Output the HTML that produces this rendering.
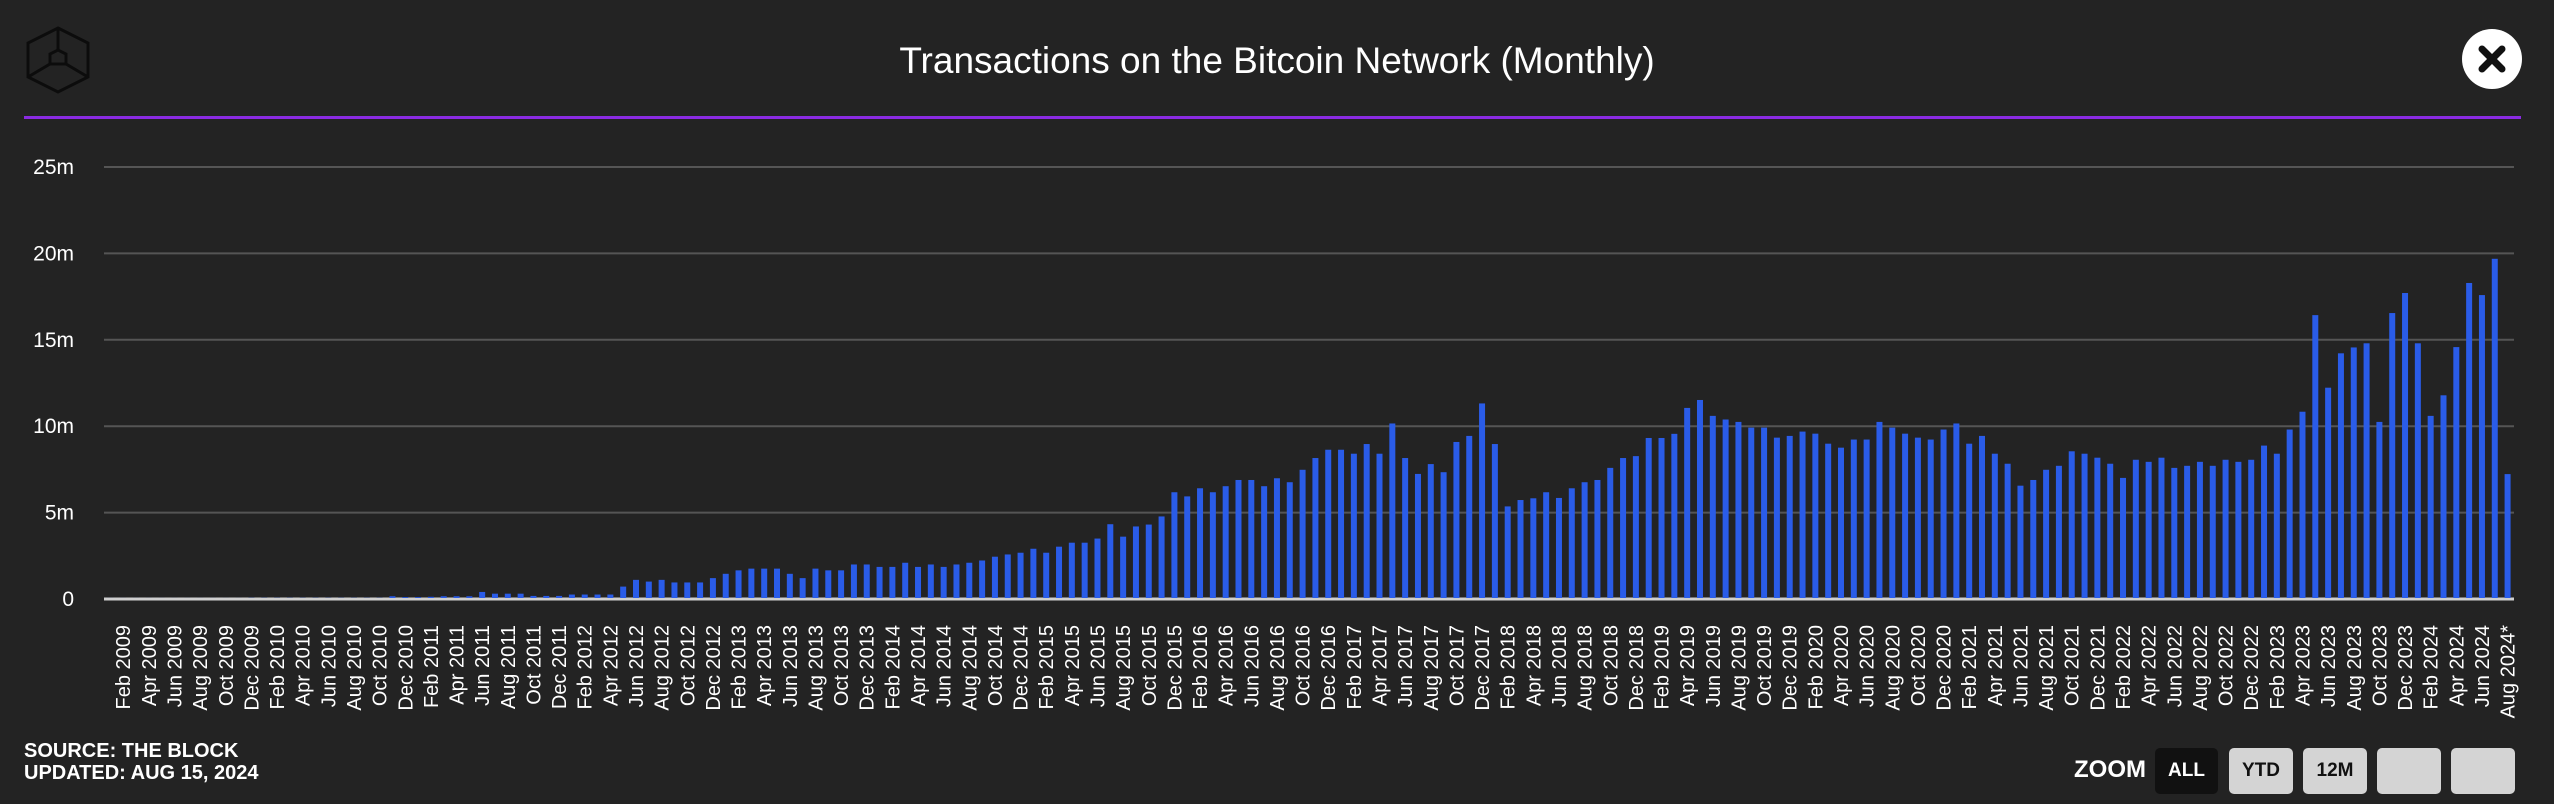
<!DOCTYPE html>
<html><head><meta charset="utf-8">
<style>
html,body{margin:0;padding:0;background:#232323;}
body{width:2554px;height:804px;overflow:hidden;position:relative;font-family:"Liberation Sans",sans-serif;}
.btn{position:absolute;top:748px;height:46px;border-radius:5px;background:#d4d4d4;color:#111;font-weight:bold;font-size:19px;line-height:46px;text-align:center;}
</style></head>
<body>
<svg style="position:absolute;left:24px;top:26px" width="68" height="68" viewBox="0 0 68 68">
<g fill="none" stroke="#0c0c0c" stroke-width="3">
<polygon points="34,2 64,17 64,51 34,66 4,51 4,17"/>
<polyline points="4,51 26,38 42,38 64,51"/><polyline points="34,2 34,24"/>
<polyline points="26,38 26,28 34,24 42,28 42,38"/>
</g></svg>
<div style="position:absolute;left:0;width:2554px;top:40px;text-align:center;color:#fff;font-size:37px;">Transactions on the Bitcoin Network (Monthly)</div>
<div style="position:absolute;left:2462px;top:29px;width:60px;height:60px;border-radius:30px;background:#fff;">
<svg width="60" height="60"><g stroke="#111" stroke-width="7" stroke-linecap="round"><line x1="20" y1="20" x2="40" y2="40"/><line x1="40" y1="20" x2="20" y2="40"/></g></svg></div>
<div style="position:absolute;left:24px;top:116px;width:2497px;height:3px;background:#8a2be2;"></div>
<svg id="chart" style="position:absolute;left:0;top:0" width="2554" height="804"></svg>
<div style="position:absolute;left:24px;top:740px;color:#fff;font-weight:bold;font-size:20px;line-height:22px;">SOURCE: THE BLOCK<br>UPDATED: AUG 15, 2024</div>
<div style="position:absolute;left:2074px;top:756px;color:#fff;font-weight:bold;font-size:24px;">ZOOM</div>
<div class="btn" style="left:2155px;width:63px;background:#111;color:#fff;">ALL</div>
<div class="btn" style="left:2229px;width:64px;">YTD</div>
<div class="btn" style="left:2303px;width:64px;">12M</div>
<div class="btn" style="left:2377px;width:64px;"></div>
<div class="btn" style="left:2451px;width:64px;"></div>
<script>
const monthNames = ["Jan","Feb","Mar","Apr","May","Jun","Jul","Aug","Sep","Oct","Nov","Dec"];
const yTicks = [0,5,10,15,20,25];
const yTickLabels = ["0","5m","10m","15m","20m","25m"];
const values = [
0.002,0.002,0.002,0.002,0.002,0.002,0.002,0.002,0.002,0.002,0.002,
0.01,0.01,0.01,0.01,0.01,0.01,0.01,0.01,0.01,0.01,0.01,
0.1,0.05,0.05,0.07,0.1,0.1,0.1,0.35,0.25,0.25,0.25,0.12,0.12,0.12,
0.2,0.2,0.2,0.2,0.66,1.05,0.95,1.05,0.9,0.9,0.9,1.15,1.4,1.6,1.7,1.7,1.7,1.4,1.15,1.7,1.6,1.6,
1.94,1.94,1.8,1.8,2.04,1.8,1.94,1.8,1.94,2.04,2.17,2.39,2.52,2.62,2.85,2.62,2.97,3.2,3.2,3.44,
4.27,3.55,4.14,4.25,4.72,6.12,5.88,6.35,6.12,6.47,6.83,6.83,6.47,6.93,6.7,7.42,8.1,8.58,8.58,8.35,
8.91,8.35,10.1,8.1,7.18,7.75,7.28,9.03,9.38,11.26,8.91,5.3,5.67,5.77,6.12,5.79,6.35,6.7,6.83,7.53,
8.1,8.21,9.26,9.26,9.5,11.0,11.46,
10.54,10.33,10.19,9.86,9.86,9.28,9.38,9.63,9.51,8.93,8.7,9.17,9.17,10.19,9.86,9.51,9.28,9.17,9.75,10.1,
8.93,9.38,8.35,7.77,6.5,6.83,7.42,7.65,8.49,8.35,8.12,7.77,6.95,8.0,7.88,8.12,7.53,7.65,7.88,7.65,
8.0,7.88,8.0,8.82,8.35,9.75,10.78,16.37,12.17,14.16,14.5,14.74,10.19,16.49,17.65,14.74,10.54,11.73,14.52,18.23,
17.53,19.63,7.17];
const startYear = 2009, startMonth = 0; // Jan 2009

const svg = document.getElementById('chart');
const NS = 'http://www.w3.org/2000/svg';
const plotL = 104, plotR = 2514, y0 = 599, yTop = 167, yMax = 25;
const band = (plotR - plotL) / values.length;
const xC = i => plotL + band * (i + 0.5);
const yS = v => y0 - (v / yMax) * (y0 - yTop);
function mk(tag, attrs){const e=document.createElementNS(NS,tag);for(const k in attrs)e.setAttribute(k,attrs[k]);svg.appendChild(e);return e;}

yTicks.forEach((t,i)=>{
  const g = mk('line',{x1:plotL,x2:plotR,y1:yS(t),y2:yS(t),stroke:i===0?'#cfcfcf':'#555','stroke-width':i===0?3:2});
  
  
  const tx = mk('text',{x:74,y:yS(t)+7,'text-anchor':'end',fill:'#fff','font-size':21,'font-family':'Liberation Sans, sans-serif'});
  tx.textContent = yTickLabels[i];
  
  
});

values.forEach((v,i)=>{
  const h = Math.max(0, y0 - yS(v));
  const r = mk('rect',{x:xC(i)-3,y:y0-h-1,width:6,height:h,fill:'#2a5ce8'});
  
  
  if (i % 2 === 1) {
    const m = startMonth + i;
    let lab = monthNames[m % 12] + ' ' + (startYear + Math.floor(m / 12));
    if (i === values.length - 1) lab += '*';
    const x = xC(i) + 7, y = 625;
    const t = mk('text',{x:x,y:y,transform:'rotate(-90 '+x+' '+y+')','text-anchor':'end',fill:'#fff','font-size':20,'font-family':'Liberation Sans, sans-serif'});
    t.textContent = lab;
    
    
  }
});
</script>
</body></html>
